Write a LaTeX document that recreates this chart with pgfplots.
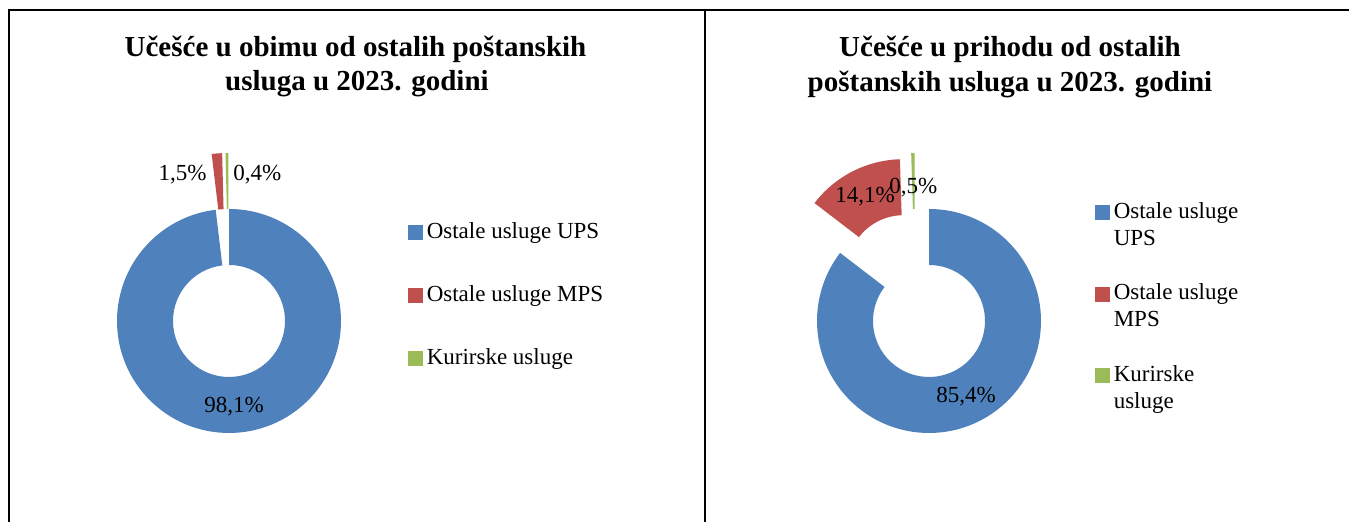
\documentclass[border=0pt]{standalone}
\usepackage{fontspec}
\setmainfont{Liberation Serif}
\usepackage{pgfplots}
\pgfplotsset{compat=1.18}
\definecolor{cUPS}{HTML}{4F81BD}
\definecolor{cMPS}{HTML}{C0504D}
\definecolor{cKur}{HTML}{9BBB59}
\newcommand{\ttl}{\fontsize{14.5}{17}\selectfont\bfseries}
\newcommand{\lbl}{\fontsize{11.5}{13.5}\selectfont}
\newcommand{\pct}[1]{\pgfmathprintnumber[fixed,fixed zerofill,precision=1,use comma,assume math mode=true]{#1}\%}
% wedge of a donut: start %, value %, explode (radii), extra x shift (radii), colour
\newcommand{\donutslice}[5]{%
  \pgfmathsetmacro\aS{90-3.6*(#1)}%
  \pgfmathsetmacro\aE{90-3.6*((#1)+(#2))}%
  \pgfmathsetmacro\aM{(\aS+\aE)/2}%
  \pgfmathsetmacro\dX{(#3)*cos(\aM)+(#4)}%
  \pgfmathsetmacro\dY{(#3)*sin(\aM)}%
  \pgfmathsetmacro\pX{\dX+cos(\aS)}%
  \pgfmathsetmacro\pY{\dY+sin(\aS)}%
  \pgfmathsetmacro\qX{\dX+0.5*cos(\aE)}%
  \pgfmathsetmacro\qY{\dY+0.5*sin(\aE)}%
  \fill[#5] (axis cs:\pX,\pY) arc[start angle=\aS,end angle=\aE,radius=56pt]
     -- (axis cs:\qX,\qY) arc[start angle=\aE,end angle=\aS,radius=28pt] -- cycle;
}
% label at the middle of the ring: start %, value %, explode, x shift, y shift
\newcommand{\slicelabel}[5]{%
  \pgfmathsetmacro\aM{90-3.6*((#1)+(#2)/2)}%
  \pgfmathsetmacro\lX{(0.75+(#3))*cos(\aM)+(#4)}%
  \pgfmathsetmacro\lY{(0.75+(#3))*sin(\aM)+(#5)}%
  \node[font=\lbl,inner sep=0pt] at (axis cs:\lX,\lY) {\pct{#2}};
}
\pgfplotsset{donut/.style={
  scale only axis, width=179.2pt, height=179.2pt,
  xmin=-1.6,xmax=1.6,ymin=-1.6,ymax=1.6,
  hide axis, clip=false,
  legend cell align=left,
  legend style={draw=none, fill=none, anchor=north west, inner sep=0pt, outer sep=0pt,
    column sep=2pt, font=\lbl, cells={anchor=base west}, nodes={inner sep=0pt}},
}}
\begin{document}
\begin{tikzpicture}
\useasboundingbox (0,0) rectangle (674.5pt,261pt);
% frame
\draw[line width=1pt] (4.5pt,0) -- (4.5pt,256pt) -- (674.5pt,256pt);
\draw[line width=1pt] (352.5pt,0) -- (352.5pt,256pt);
% titles
\node[font=\ttl,anchor=base] at (177.75pt,232.5pt) {Učešće u obimu od ostalih poštanskih};
\node[font=\ttl,anchor=base] at (178.5pt,215.5pt) {usluga u 2023. godini};
\node[font=\ttl,anchor=base] at (505pt,232.5pt) {Učešće u prihodu od ostalih};
\node[font=\ttl,anchor=base] at (505pt,215pt) {poštanskih usluga u 2023. godini};

% ---- chart 1: volume shares (UPS 98.1, MPS 1.5, courier 0.4)
\begin{axis}[donut, at={(24.9pt,10.9pt)}, anchor=south west,
  legend style={at={(axis cs:1.598,0.905)}, row sep=20.5pt}]
\addlegendimage{legend image code/.code={\fill[cUPS] (0pt,-0.5pt) rectangle (7pt,6.5pt);}}
\addlegendentry{\strut Ostale usluge UPS}
\addlegendimage{legend image code/.code={\fill[cMPS] (0pt,-0.5pt) rectangle (7pt,6.5pt);}}
\addlegendentry{\strut Ostale usluge MPS}
\addlegendimage{legend image code/.code={\fill[cKur] (0pt,-0.5pt) rectangle (7pt,6.5pt);}}
\addlegendentry{\strut Kurirske usluge}
\pgfplotsextra{%
  \donutslice{0}{98.1}{0}{0}{cUPS}%
  \donutslice{98.1}{1.5}{0.5}{0}{cMPS}%
  \donutslice{99.6}{0.4}{0.5}{0}{cKur}%
  \slicelabel{0}{98.1}{0}{0}{-0.02}%
  \node[font=\lbl,inner sep=0pt,anchor=base east] at (axis cs:-0.196,1.25) {\pct{1.5}};
  \node[font=\lbl,inner sep=0pt,anchor=base west] at (axis cs:0.036,1.25) {\pct{0.4}};
}
\end{axis}

% ---- chart 2: revenue shares (UPS 85.4, MPS 14.1, courier 0.5)
\begin{axis}[donut, at={(374.9pt,10.9pt)}, anchor=south west,
  legend style={at={(axis cs:1.482,1.088)}, row sep=30pt}]
\addlegendimage{legend image code/.code={\fill[cUPS] (0pt,-0.5pt) rectangle (7pt,6.5pt);}}
\addlegendentry{\parbox[t]{70pt}{\strut Ostale usluge\\UPS\strut}}
\addlegendimage{legend image code/.code={\fill[cMPS] (0pt,-0.5pt) rectangle (7pt,6.5pt);}}
\addlegendentry{\parbox[t]{70pt}{\strut Ostale usluge\\MPS\strut}}
\addlegendimage{legend image code/.code={\fill[cKur] (0pt,-0.5pt) rectangle (7pt,6.5pt);}}
\addlegendentry{\parbox[t]{70pt}{\strut Kurirske\\usluge\strut}}
\pgfplotsextra{%
  \donutslice{0}{85.4}{0}{0}{cUPS}%
  \donutslice{85.4}{14.1}{0.5}{0}{cMPS}%
  \donutslice{99.5}{0.5}{0.5}{-0.12}{cKur}%
  \slicelabel{0}{85.4}{0}{0}{0}%
  \slicelabel{85.4}{14.1}{0.5}{0}{0}%
  \slicelabel{99.5}{0.5}{0.5}{-0.12}{-0.06}%
}
\end{axis}
\end{tikzpicture}
\end{document}
